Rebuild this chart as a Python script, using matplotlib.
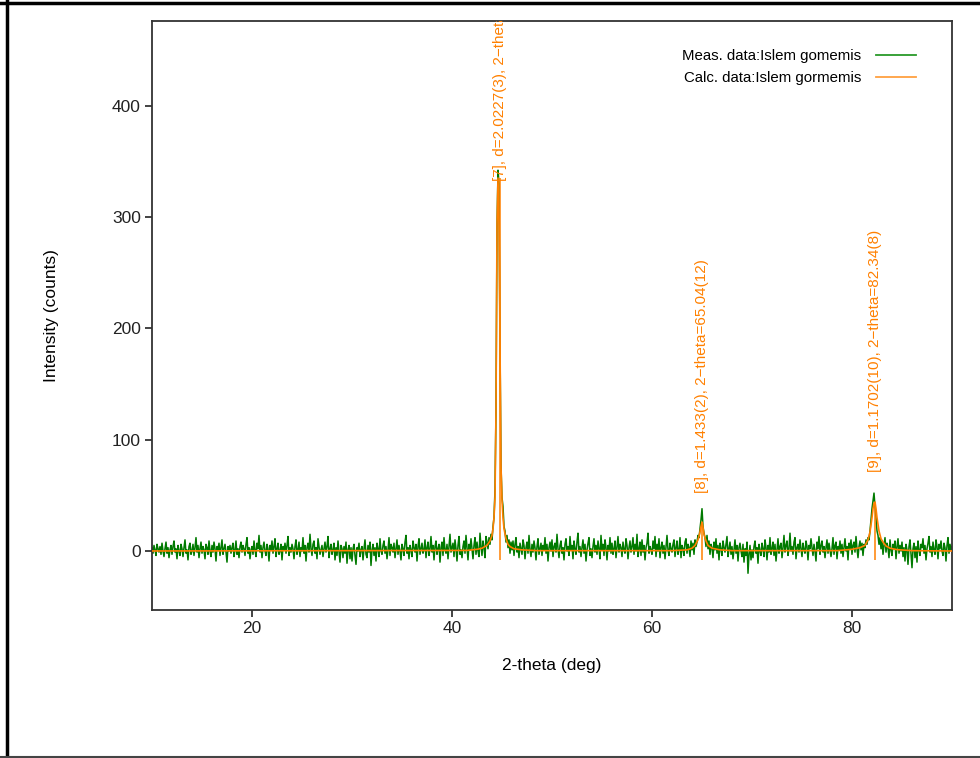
#!/usr/bin/env python3
"""XRD pattern: measured vs calculated intensity with indexed peak markers."""
from __future__ import annotations

import matplotlib
matplotlib.use("Agg")
import matplotlib.pyplot as plt
from matplotlib.lines import Line2D
import numpy as np

plt.rcParams["font.family"] = ["Liberation Sans", "DejaVu Sans"]

# measured pattern, 0.1 deg steps from 10.0 to 90.0 (one row per degree)
MEAS_START = 10.0
MEAS_STEP = 0.1
meas_counts = [
    3, -2, 5, 1, -4, 6, 2, -1, 4, -3,
    7, 0, -5, 2, 8, -2, 3, -6, 1, 5,
    -3, 4, 9, -1, 2, -7, 5, 0, -4, 6,
    2, -5, 3, 10, -2, 1, -8, 4, 7, -3,
    0, 6, -4, 3, 12, -1, 5, -6, 2, 8,
    -2, 4, 1, -7, 6, 3, -3, 9, 0, -5,
    5, -1, 8, 2, -9, 4, 1, 7, -4, 3,
    10, -3, 2, 6, -1, -10, 4, 0, 5, -2,
    3, 7, -5, 1, 9, -3, 2, -6, 4, 8,
    -1, 5, 2, -4, 6, 12, -2, 3, -7, 1,
    4, -3, 9, 1, -5, 7, 2, 14, -1, 5,
    -6, 3, 8, 0, -4, 6, 2, -9, 5, 1,
    9, -2, 4, 11, -5, 2, 7, -3, 0, 6,
    -8, 4, 1, 7, -2, 5, 13, -4, 3, -1,
    6, 2, -7, 4, 10, -3, 1, 8, -5, 3,
    0, 12, -2, 5, -9, 3, 7, -1, 15, 2,
    -4, 6, 9, -2, 3, -7, 11, 4, -3, 1,
    5, -5, 2, 8, -1, 4, 13, -6, 2, 6,
    -3, 1, 7, -8, 3, -4, 9, 0, -10, 5,
    2, -6, 4, -2, 8, -11, 1, 5, -7, 3,
    -9, 2, 6, -4, -12, 3, 0, 7, -5, 1,
    4, -8, 2, 10, -3, -6, 5, -1, 8, -13,
    1, 6, -4, 3, -9, 7, 2, -5, 11, 0,
    -3, 5, 9, -2, 4, -7, 1, 12, -4, 6,
    3, -1, 7, -6, 2, 10, -3, 5, 0, -8,
    6, 2, -4, 8, 14, -2, 3, -7, 5, 1,
    -5, 9, 3, -1, 6, -9, 4, 11, -3, 2,
    7, -2, 1, 10, -6, 3, 8, -4, 2, 13,
    -1, 5, -8, 4, 9, -3, 2, 6, -10, 3,
    8, -4, 12, 1, -2, 6, -7, 4, 15, -1,
    3, 7, -5, 10, 2, -9, 5, 13, -3, 1,
    -6, 4, 9, -2, 14, 3, -8, 6, 1, 11,
    2, -7, 5, 12, -3, 8, 0, -5, 16, 4,
    -4, 9, 3, -6, 13, 8, 2, 12, 6, 15,
    10, 22, 30, 55, 127, 290, 342, 330, 187, 76,
    48, 40, 22, 18, 8, 14, 3, 10, -2, 8,
    1, 9, -4, 6, 12, -1, 4, -6, 7, 2,
    -3, 10, 5, -7, 3, 8, -2, 14, 1, -5,
    6, -1, 9, 3, -8, 4, 11, -3, 2, 7,
    -4, 5, 1, 12, -2, 6, -9, 3, 8, 0,
    10, -5, 4, 7, -1, 15, 2, -6, 5, 9,
    -2, 3, -8, 6, 11, 0, 4, -4, 13, 1,
    5, -7, 9, 2, -3, 8, 16, -1, 4, -5,
    3, 10, -2, 6, -9, 1, 7, 12, -4, 2,
    -6, 4, 11, -1, 5, -3, 9, 2, -7, 14,
    1, 6, -4, 10, 3, -8, 5, 0, 12, -2,
    7, -3, 2, 9, -6, 4, 13, -1, 6, 3,
    -5, 8, 1, -2, 11, 5, -7, 3, 9, -1,
    4, 12, -3, 6, 0, 15, -5, 2, 8, -4,
    10, -1, 5, -8, 3, 7, 16, -2, 4, 1,
    -3, 9, 2, 13, -5, 6, 0, 11, -6, 3,
    8, -2, 5, -7, 4, 14, 1, -4, 7, 2,
    -1, 6, 10, -5, 3, 9, -3, 1, 12, -6,
    5, 2, -4, 8, 11, -2, 6, 3, -5, 9,
    1, 7, -3, 10, 4, 8, 14, 12, 20, 28,
    38, 22, 16, 12, 4, 14, 2, 9, -3, 6,
    3, -6, 8, 1, 11, -2, 5, -8, 7, 2,
    -4, 9, 3, -1, 6, 13, -5, 2, 8, -3,
    4, -7, 1, 10, -2, 5, -9, 3, 7, 0,
    -5, 6, -10, 2, -4, 8, -20, -3, 5, -8,
    1, -6, 4, 9, -2, 3, -11, 6, 0, -4,
    7, 2, -5, 10, 3, -8, 5, -1, 12, -3,
    2, 8, -4, 6, -9, 1, 11, -2, 4, 7,
    -6, 3, 14, -1, 5, 9, -4, 2, 16, 0,
    4, -3, 8, 12, -7, 3, 6, -1, 10, 2,
    -5, 7, 1, -2, 9, 4, -8, 5, 2, 11,
    3, -4, 6, 0, -9, 8, 2, 13, -3, 5,
    9, -1, 4, -6, 3, 10, -2, 7, 1, -5,
    2, 12, -3, 5, 8, -7, 4, 1, 9, -2,
    6, -5, 3, 11, 0, 4, -8, 7, 2, 10,
    -3, 5, 8, -1, 13, 2, -6, 4, 9, 1,
    7, -4, 6, 3, 10, 6, 12, 10, 18, 28,
    38, 45, 52, 40, 30, 18, 14, 6, 12, 2,
    9, -3, 5, 12, -1, 7, 3, -6, 10, 1,
    -4, 6, 2, 9, -7, 4, 11, -2, 5, 0,
    8, -5, 3, -9, 6, 1, -12, 4, 10, -3,
    -15, 2, 7, -6, 4, -10, 9, 1, -4, 6,
    3, 11, -2, 5, -8, 2, 7, 13, -1, 4,
    -5, 8, 1, -3, 10, 4, -7, 6, 2, 9,
    0, -4, 7, 3, -9, 5, 12, -2, 6, 1,
    4,
]

# calculated profile, read at its break points
calc_2theta = [10.0, 41.5, 42.5, 43.0, 43.5, 43.8, 44.0, 44.1, 44.2, 44.3,
               44.4, 44.5, 44.6, 44.7, 44.8, 44.9, 45.0, 45.1, 45.2, 45.4,
               45.6, 45.8, 46.2, 47.0, 48.5, 62.0, 63.5, 64.0, 64.3, 64.6,
               64.8, 64.9, 65.0, 65.1, 65.2, 65.4, 65.6, 66.0, 66.8, 68.0,
               78.5, 80.0, 80.8, 81.3, 81.6, 81.8, 82.0, 82.1, 82.2, 82.3,
               82.4, 82.5, 82.7, 82.9, 83.1, 83.4, 83.8, 84.5, 86.0, 90.0]
calc_counts = [0, 0.5, 1.5, 2.5, 5, 9, 14, 20, 30, 48,
               127, 292, 335, 292, 187, 76, 46, 30, 20, 11,
               6, 4, 2, 1, 0.3, 0.3, 1, 2.5, 5, 10,
               17, 22, 26, 21, 15, 9, 5, 2.5, 1, 0.3,
               0.3, 1.5, 3, 5, 10, 17, 30, 38, 43, 44,
               38, 30, 18, 11, 8, 4.5, 2.5, 1.2, 0.3, 0]

# indexed reflections
peak_2theta = [44.77, 65.04, 82.34]
peak_top = [335, 26, 44]
label_base = [332, 52, 71]
peak_labels = [
    "[7], d=2.0227(3), 2\u2212theta=44.77(1)",
    "[8], d=1.433(2), 2\u2212theta=65.04(12)",
    "[9], d=1.1702(10), 2\u2212theta=82.34(8)",
]

MEAS_COLOR = "#007a00"
CALC_COLOR = "#ff8000"
AXIS_COLOR = "#333333"


def main() -> int:
    fig = plt.figure(figsize=(9.8, 7.58), dpi=100)
    ax = fig.add_axes([152 / 980, 148 / 758, 800 / 980, 589 / 758])

    two_theta = MEAS_START + MEAS_STEP * np.arange(len(meas_counts))
    ax.plot(two_theta, meas_counts, color=MEAS_COLOR, lw=1.1, zorder=2)
    ax.plot(calc_2theta, calc_counts, color=CALC_COLOR, lw=1.2, zorder=3)

    for x, top, base, txt in zip(peak_2theta, peak_top, label_base, peak_labels):
        ax.vlines(x, -8, top, color=CALC_COLOR, lw=1.1, zorder=3)
        ax.text(x, base, txt, rotation=90, ha="center", va="bottom",
                color=CALC_COLOR, fontsize=11, clip_on=True, zorder=4)

    ax.set_xlim(10, 90)
    ax.set_ylim(-53, 476)
    ax.set_xticks([20, 40, 60, 80])
    ax.set_yticks([0, 100, 200, 300, 400])
    ax.tick_params(direction="out", length=5, width=1.2, colors="#222222",
                   labelsize=12.5, pad=3)
    for sp in ax.spines.values():
        sp.set_color(AXIS_COLOR)
        sp.set_linewidth(1.3)

    ax.set_xlabel("2-theta (deg)", fontsize=12.5, labelpad=16)
    ax.set_ylabel("Intensity (counts)", fontsize=12.5, labelpad=38)

    handles = [Line2D([], [], color="#2a9a2a", lw=1.3),
               Line2D([], [], color="#ffa040", lw=1.3)]
    ax.legend(handles, ["Meas. data:Islem gomemis", "Calc. data:Islem gormemis"],
              loc="upper right", bbox_to_anchor=(0.955, 0.952), frameon=False,
              markerfirst=False, fontsize=10.8, handlelength=2.7,
              handletextpad=0.95, borderpad=0, borderaxespad=0, labelspacing=0.5)

    # outer frame of the exported picture
    fig.add_artist(Line2D([0, 1], [1 - 3 / 758] * 2, color="black", lw=2.5,
                          transform=fig.transFigure))
    fig.add_artist(Line2D([7 / 980] * 2, [0, 1], color="black", lw=2.5,
                          transform=fig.transFigure))
    fig.add_artist(Line2D([0, 1], [1.5 / 758] * 2, color="#444444", lw=1.5,
                          transform=fig.transFigure))

    fig.savefig("out.png", dpi=100)
    plt.close(fig)
    return 0


if __name__ == "__main__":
    raise SystemExit(main())
